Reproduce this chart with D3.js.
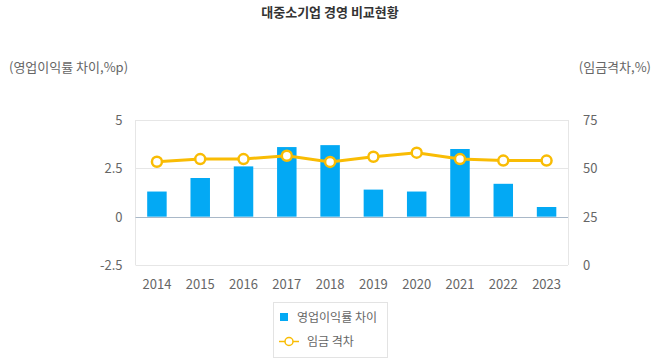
<!DOCTYPE html>
<html>
<head>
<meta charset="utf-8">
<script src="https://cdn.jsdelivr.net/npm/d3@7"></script>
<style>
  body { margin: 0; background: #fff; }
  text { font-family: "Noto Sans CJK KR", "Noto Sans", sans-serif; }
</style>
</head>
<body>
<svg id="chart" width="660" height="360"></svg>
<script>
// data
const years = ['2014', '2015', '2016', '2017', '2018', '2019', '2020', '2021', '2022', '2023'];
const profitGap = [1.3, 2.0, 2.6, 3.6, 3.7, 1.4, 1.3, 3.5, 1.7, 0.5];
const wageGap = [53.4, 54.8, 54.8, 56.5, 53.3, 56.0, 58.1, 54.8, 54.0, 54.0];
const leftTicks = [-2.5, 0, 2.5, 5];
const rightTicks = [0, 25, 50, 75];

const svg = d3.select('#chart');
const plotL = 135.5, plotR = 568, plotT = 120, plotB = 265;

const x = d3.scaleBand().domain(years).range([plotL, plotR]).paddingInner(0.55).paddingOuter(0.27);
const yL = d3.scaleLinear().domain([-2.5, 5]).range([plotB, plotT]);
const yR = d3.scaleLinear().domain([0, 75]).range([plotB, plotT]);

// title
svg.append('text')
  .attr('x', 330).attr('y', 17)
  .attr('text-anchor', 'middle')
  .attr('font-size', 13).attr('font-weight', 'bold')
  .attr('fill', '#333')
  .text('대중소기업 경영 비교현황');

// axis titles
svg.append('text')
  .attr('x', 9).attr('y', 72)
  .attr('font-size', 13).attr('fill', '#666')
  .text('(영업이익률 차이,%p)');
svg.append('text')
  .attr('x', 651).attr('y', 72)
  .attr('text-anchor', 'end')
  .attr('font-size', 13).attr('fill', '#666')
  .text('(임금격차,%)');

// grid
const grid = svg.append('g');
grid.selectAll('line.h')
  .data(leftTicks.filter(d => d !== 0))
  .enter().append('line')
  .attr('x1', plotL).attr('x2', plotR)
  .attr('y1', d => Math.round(yL(d)) + 0.5).attr('y2', d => Math.round(yL(d)) + 0.5)
  .attr('stroke', '#e6e6e6');
grid.append('line')
  .attr('x1', plotL).attr('x2', plotL)
  .attr('y1', plotT).attr('y2', plotB)
  .attr('stroke', '#e6e6e6');
grid.append('line')
  .attr('x1', plotR + 0.5).attr('x2', plotR + 0.5)
  .attr('y1', plotT).attr('y2', plotB)
  .attr('stroke', '#e6e6e6');

// left axis
const axL = svg.append('g')
  .attr('transform', `translate(${plotL - 10},0)`)
  .call(d3.axisLeft(yL).tickValues(leftTicks).tickSize(0).tickFormat(d => String(d)));
axL.select('.domain').remove();
axL.selectAll('text').attr('font-size', 13).attr('fill', '#666').attr('dy', '0.35em')
  .style('font-family', '"Noto Sans CJK KR", sans-serif');

// right axis
const axR = svg.append('g')
  .attr('transform', `translate(${plotR + 12},0)`)
  .call(d3.axisRight(yR).tickValues(rightTicks).tickSize(0));
axR.select('.domain').remove();
axR.selectAll('text').attr('font-size', 13).attr('fill', '#666').attr('dy', '0.35em')
  .style('font-family', '"Noto Sans CJK KR", sans-serif');

// x axis labels
const axX = svg.append('g')
  .attr('transform', `translate(0,${plotB + 12})`)
  .call(d3.axisBottom(x).tickSize(0));
axX.select('.domain').remove();
axX.selectAll('text').attr('font-size', 13).attr('fill', '#666')
  .style('font-family', '"Noto Sans CJK KR", sans-serif');

// bars
svg.append('g').selectAll('rect')
  .data(profitGap)
  .enter().append('rect')
  .attr('x', (d, i) => x(years[i]))
  .attr('width', x.bandwidth())
  .attr('y', d => yL(Math.max(0, d)))
  .attr('height', d => Math.abs(yL(d) - yL(0)))
  .attr('fill', '#03a9f4');

// zero line
svg.append('line')
  .attr('x1', plotL).attr('x2', plotR)
  .attr('y1', Math.round(yL(0)) + 0.5).attr('y2', Math.round(yL(0)) + 0.5)
  .attr('stroke', '#a9b8c8');

// wage line
const cx = (d, i) => x(years[i]) + x.bandwidth() / 2;
const line = d3.line().x(cx).y(d => yR(d));
svg.append('path')
  .datum(wageGap)
  .attr('d', line)
  .attr('fill', 'none')
  .attr('stroke', '#f9bc04')
  .attr('stroke-width', 3);
svg.append('g').selectAll('circle')
  .data(wageGap)
  .enter().append('circle')
  .attr('cx', cx)
  .attr('cy', d => yR(d))
  .attr('r', 5)
  .attr('fill', '#fff')
  .attr('stroke', '#f9bc04')
  .attr('stroke-width', 2.5);

// legend
const lg = svg.append('g');
lg.append('rect')
  .attr('x', 273.5).attr('y', 302.5)
  .attr('width', 114).attr('height', 55)
  .attr('fill', '#fff').attr('stroke', '#e3e3e3');
lg.append('rect')
  .attr('x', 280).attr('y', 313)
  .attr('width', 8).attr('height', 8)
  .attr('fill', '#03a9f4');
lg.append('text')
  .attr('x', 297).attr('y', 322)
  .attr('font-size', 12).attr('fill', '#666')
  .text('영업이익률 차이');
lg.append('line')
  .attr('x1', 279).attr('x2', 299)
  .attr('y1', 341.5).attr('y2', 341.5)
  .attr('stroke', '#f9bc04').attr('stroke-width', 1.5);
lg.append('circle')
  .attr('cx', 289).attr('cy', 341.5).attr('r', 4)
  .attr('fill', '#fff').attr('stroke', '#f9bc04').attr('stroke-width', 1.5);
lg.append('text')
  .attr('x', 307).attr('y', 346)
  .attr('font-size', 12).attr('fill', '#666')
  .text('임금 격차');
</script>
</body>
</html>
